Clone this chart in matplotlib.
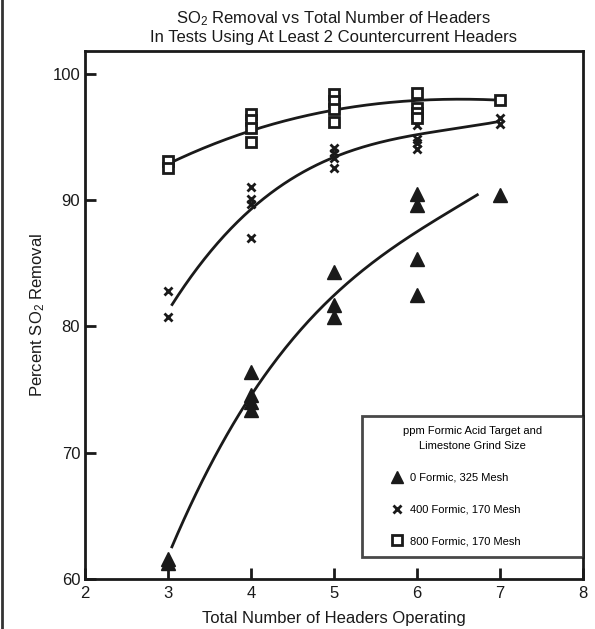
import matplotlib
matplotlib.use("Agg")
import matplotlib.pyplot as plt
import numpy as np
from matplotlib.lines import Line2D

plt.rcParams['font.family'] = ['Liberation Sans', 'DejaVu Sans']
plt.rcParams['mathtext.fontset'] = 'custom'
plt.rcParams['mathtext.rm'] = 'Liberation Sans'
plt.rcParams['mathtext.default'] = 'regular'

# ---- data ----
tri_x = [3, 3, 4, 4, 4, 4, 5, 5, 5, 6, 6, 6, 6, 7]
tri_y = [61.6, 61.3, 76.4, 74.6, 74.0, 73.4, 84.3, 81.7, 80.7, 90.5, 89.6, 85.3, 82.5, 90.4]

cross_x = [3, 3, 4, 4, 4, 4, 5, 5, 5, 5, 6, 6, 6, 6, 7, 7]
cross_y = [82.8, 80.7, 91.0, 90.1, 89.7, 87.0, 94.1, 93.7, 93.3, 92.5, 95.9, 94.8, 94.5, 94.0, 96.5, 96.0]

sq_x = [3, 3, 4, 4, 4, 4, 5, 5, 5, 5, 6, 6, 6, 6, 7]
sq_y = [93.1, 92.5, 96.8, 96.3, 95.7, 94.6, 98.4, 97.8, 97.2, 96.2, 98.5, 97.3, 96.9, 96.5, 97.9]

# fitted curves
tri_curve_x = [3.04, 4, 5, 6, 6.74]
tri_curve_y = [62.4, 74.7, 82.2, 87.7, 90.4]
cross_curve_x = [3.04, 4, 5, 6, 7]
cross_curve_y = [81.6, 89.4, 93.2, 95.3, 96.2]
sq_curve_x = [3.0, 4, 5, 6, 7]
sq_curve_y = [92.85, 95.5, 97.1, 97.9, 97.9]

labels = ["0 Formic, 325 Mesh", "400 Formic, 170 Mesh", "800 Formic, 170 Mesh"]
x_ticks = [2, 3, 4, 5, 6, 7, 8]
y_ticks = [60, 70, 80, 90, 100]

fig = plt.figure(figsize=(5.95, 6.29), dpi=100)
ax = fig.add_axes([0.1429, 0.0795, 0.8371, 0.8395])

col = '#1a1a1a'

def smooth(xs, ys, deg):
    p = np.polyfit(xs, ys, deg)
    xx = np.linspace(min(xs), max(xs), 200)
    return xx, np.polyval(p, xx)

for cx, cy, d in [(tri_curve_x, tri_curve_y, 3), (cross_curve_x, cross_curve_y, 3), (sq_curve_x, sq_curve_y, 3)]:
    xx, yy = smooth(cx, cy, d)
    ax.plot(xx, yy, color=col, lw=2, zorder=2, solid_capstyle='butt')

ax.plot(tri_x, tri_y, ls='none', marker='^', ms=9.5, color=col, mec=col, zorder=3, label=labels[0])
ax.plot(cross_x, cross_y, ls='none', marker='x', ms=6, mew=2, color=col, zorder=3, label=labels[1])
ax.plot(sq_x, sq_y, ls='none', marker='s', ms=7.5, mfc='white', mec=col, mew=2, zorder=3, label=labels[2])

ax.set_xlim(2, 8)
ax.set_ylim(60, 101.8)
ax.set_xticks(x_ticks)
ax.set_yticks(y_ticks)
ax.tick_params(direction='in', length=8, width=2, color=col, labelsize=12, labelcolor=col)
ax.tick_params(axis='x', pad=5)
for s in ax.spines.values():
    s.set_linewidth(2)
    s.set_color(col)

ax.set_xlabel("Total Number of Headers Operating", fontsize=12, color=col, labelpad=7)
ax.set_ylabel("Percent SO$_2$ Removal", fontsize=12, color=col, labelpad=4)
ax.text(0.5, 1.0 + (579 - 18 - 528) / 528.0 * 0 + 0.0, "", transform=ax.transAxes)
fig.text(0.561, 0.971, "SO$_2$ Removal vs Total Number of Headers", ha='center', va='center', fontsize=12, color=col)
fig.text(0.561, 0.940, "In Tests Using At Least 2 Countercurrent Headers", ha='center', va='center', fontsize=12, color=col)

leg = ax.legend(loc='lower left', bbox_to_anchor=(0.556, 0.042, 0.444, 0.263), mode='expand',
                title="ppm Formic Acid Target and\nLimestone Grind Size", fontsize=8, title_fontsize=8,
                frameon=True, fancybox=False, edgecolor=col, borderaxespad=0, labelspacing=1.95,
                handlelength=4.4, handletextpad=-1.0, borderpad=0.95, markerscale=0.95,
                alignment='center')
leg.get_frame().set_linewidth(2)
leg.get_title().set_multialignment('center')
leg.get_title().set_linespacing(1.6)

fig.add_artist(Line2D([0.004, 0.004], [0, 1], transform=fig.transFigure, color='#333333', lw=2))

fig.savefig("out.png", dpi=100)
